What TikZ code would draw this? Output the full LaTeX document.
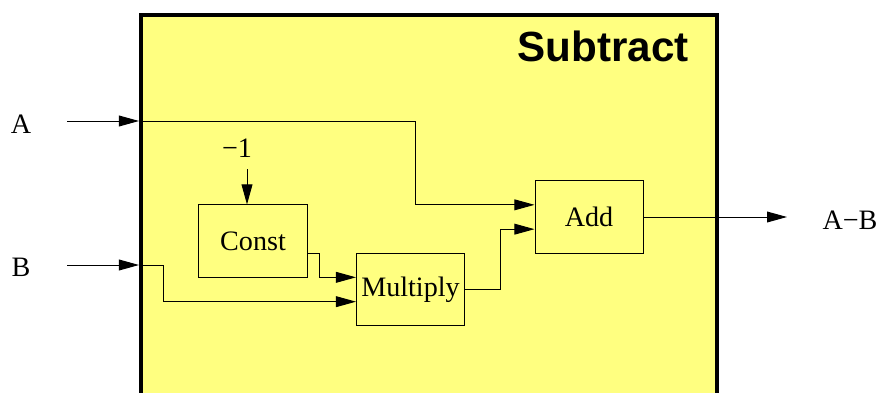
\documentclass[tikz,border=0pt]{standalone}
\usepackage{fontspec}
\setmainfont{Liberation Serif}
\newfontfamily\headfont{Liberation Sans}
\usetikzlibrary{arrows.meta,calc}
\definecolor{subyellow}{RGB}{255,255,128}

\begin{document}
\begin{tikzpicture}[
    x=0.025cm, y=-0.025cm,
    block/.style={rectangle, draw=black, fill=subyellow, line width=0.7pt,
                  minimum width=2.7cm, minimum height=1.8cm, inner sep=0pt,
                  font=\fontsize{20}{24}\selectfont},
    lbl/.style={inner sep=0pt, font=\fontsize{20}{24}\selectfont},
    arrow/.style={-{Triangle[length=0.5cm, width=0.27cm]}, line width=0.7pt, black},
    wire/.style={line width=0.7pt, black}
]
    % picture frame, the outer box runs off the bottom
    \clip (0,0) rectangle (879,393);

    % outer block
    \node[rectangle, draw=black, fill=subyellow, line width=2.8pt, inner sep=0pt,
          minimum width=14.4cm, minimum height=10.5cm, anchor=north west] (sub) at (139,13) {};
    \node[font=\headfont\bfseries\fontsize{30}{36}\selectfont, inner sep=0pt] (title) at (603,46) {Subtract};

    % inner blocks
    \node[block] (const) at (253,241) {Const};
    \node[block] (mul) at (410.5,289.5) {Multiply};
    \node[block] (add) at (589,217) {Add};

    % outside labels
    \node[lbl] (labA) at (21,124) {A};
    \node[lbl] (labB) at (21,267) {B};
    \node[lbl] (labC) at (237,148) {−1};
    \node[lbl] (labAB) at (850,220) {A−B};

    % ports
    \coordinate (srcA) at (67,121);
    \coordinate (inA) at (139,121);
    \coordinate (srcB) at (67,265);
    \coordinate (inB) at (139,265);
    \coordinate (srcC) at (247,169);
    \coordinate (outAB) at (787,217);
    \coordinate (const2) at ($(const.north east)!2/3!(const.south east)$);
    \coordinate (mul1) at ($(mul.north west)!1/3!(mul.south west)$);
    \coordinate (mul2) at ($(mul.north west)!2/3!(mul.south west)$);
    \coordinate (add1) at ($(add.north west)!1/3!(add.south west)$);
    \coordinate (add2) at ($(add.north west)!2/3!(add.south west)$);

    % inputs
    \draw[arrow] (srcA) -- (inA);
    \draw[arrow] (srcB) -- (inB);
    \draw[arrow] (srcC) -- (srcC |- const.north);

    % internal wiring
    \draw[arrow] (inA) -- ++(276,0) |- (add1);
    \draw[arrow] (inB) -- ++(24,0) |- (mul2);
    \draw[arrow] (const2) -- ++(12,0) |- (mul1);
    \draw[arrow] (mul.east) -- ++(35,0) |- (add2);

    % output
    \draw[arrow] (add.east) -- (outAB);

\end{tikzpicture}
\end{document}
